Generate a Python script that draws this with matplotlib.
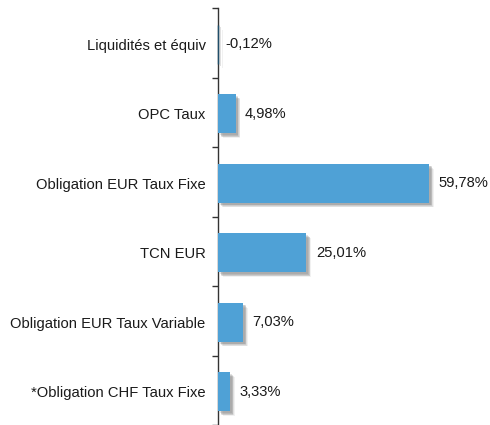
import matplotlib
matplotlib.use("Agg")
import matplotlib.pyplot as plt
import matplotlib.patheffects as pe

categories = ["Liquidités et équiv", "OPC Taux", "Obligation EUR Taux Fixe",
              "TCN EUR", "Obligation EUR Taux Variable", "*Obligation CHF Taux Fixe"]
values = [-0.12, 4.98, 59.78, 25.01, 7.03, 3.33]
labels = ["-0,12%", "4,98%", "59,78%", "25,01%", "7,03%", "3,33%"]

plt.rcParams['font.family'] = ['Liberation Sans', 'DejaVu Sans']

W, H = 490, 425
fig = plt.figure(figsize=(W/100, H/100), dpi=100)
x0 = 218
ax = fig.add_axes([x0/W, 0, (W - x0)/W, (H - 8)/H])

px_per = (429 - 218) / 59.78
xmax = (W - x0) / px_per
ax.set_xlim(0, xmax)
ax.set_ylim(-0.5 + (H - 8)/70, -0.5)

shadow = [pe.SimplePatchShadow(offset=(o, -o), shadow_rgbFace="#777777", alpha=a)
          for o, a in [(3.5, 0.10), (3.0, 0.14), (2.5, 0.18), (2.0, 0.22), (1.5, 0.2)]]
pos = list(range(len(categories)))
bars = ax.barh([p + 0.02 for p in pos], values, height=0.56, color="#4FA1D6",
               edgecolor="none", zorder=3, path_effects=shadow + [pe.Normal()])
bars[0].set_color("#1F4E6A")
bars[0].set_clip_on(False)

for p, v, lab in zip(pos, values, labels):
    off = 7 if v < 0 else 9.5
    ax.annotate(lab, xy=(max(v, 0), p + 0.02), xytext=(off * 0.72, 0), textcoords="offset points",
                va="center", ha="left", fontsize=10.6, color="#1a1a1a")

for s in ["top", "right", "bottom"]:
    ax.spines[s].set_visible(False)
ax.spines["left"].set_color("#333333")
ax.spines["left"].set_linewidth(1.0)
ax.set_xticks([])
ax.set_yticks([p - 0.5 for p in pos] + [len(pos) - 0.5])
ax.set_yticklabels([])
ax.tick_params(axis="y", which="major", length=4, width=1.0, color="#333333", direction="out")
ax.set_yticks([p + 0.02 for p in pos], minor=True)
ax.set_yticklabels(categories, minor=True, fontsize=10.6, color="#1a1a1a")
ax.tick_params(axis="y", which="minor", length=0, pad=9)

fig.savefig("out.png", dpi=100)
